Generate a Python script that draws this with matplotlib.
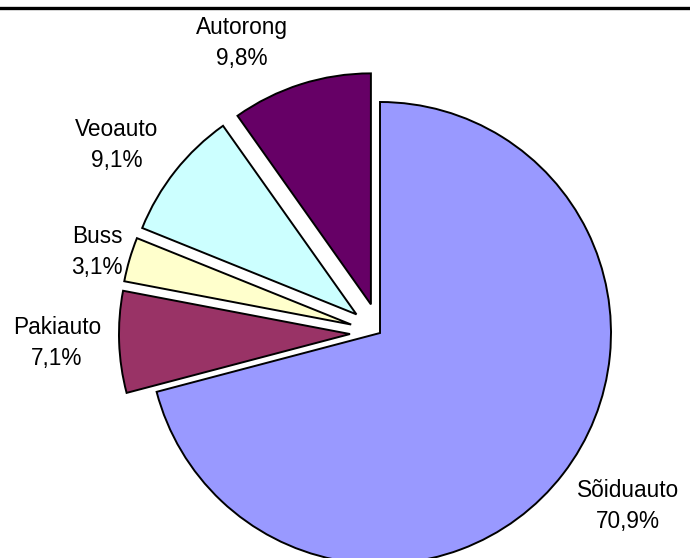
import numpy as np
import matplotlib
matplotlib.use("Agg")
from matplotlib import pyplot as plt

plt.rcParams['font.family'] = ['Liberation Sans', 'DejaVu Sans']

# data
categories = ['Sõiduauto', 'Pakiauto', 'Buss', 'Veoauto', 'Autorong']
shares = [70.9, 7.1, 3.1, 9.1, 9.8]
colors = ['#9999FF', '#993366', '#FFFFCC', '#CCFFFF', '#660066']
explode = [0.0, 0.13, 0.13, 0.13, 0.13]

# label anchor points in pixels (figure is 690x558)
label_px = [(628, 506), (57, 343), (97, 252), (117, 145), (242, 43)]

W, H = 690, 558
cx, cy, R = 380, 333, 231   # pie centre and radius in pixels

fig = plt.figure(figsize=(W / 100, H / 100), dpi=100)
ax = fig.add_axes([0, 0, 1, 1])
ax.axis('off')

ax.pie(shares, colors=colors, explode=explode, startangle=90,
       counterclock=False, radius=1.0,
       wedgeprops=dict(edgecolor='black', linewidth=1.4))
ax.set_xlim(-cx / R, (W - cx) / R)
ax.set_ylim(-(H - cy) / R, cy / R)
ax.set_aspect('auto')

for name, val, (px, py) in zip(categories, shares, label_px):
    txt = f"{name}\n{val:.1f}%".replace('.', ',')
    ax.text((px - cx) / R, (cy - py) / R, txt, ha='center', va='center',
            fontsize=16.3, linespacing=1.42, multialignment='center')

# chart frame top edge
fig.add_artist(plt.Line2D([0, 1], [1 - 8 / H, 1 - 8 / H], color='black',
                          linewidth=2.4, transform=fig.transFigure))

fig.savefig('out.png', dpi=100)
